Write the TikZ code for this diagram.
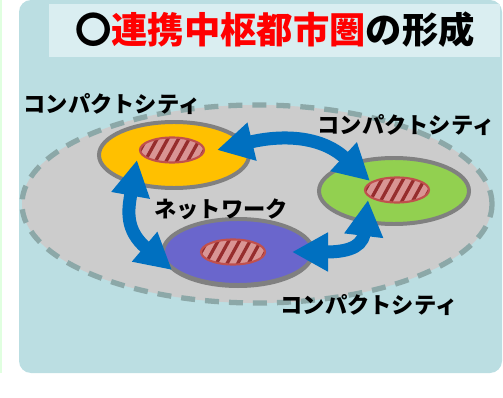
\documentclass[tikz,border=0pt]{standalone}
\usepackage{fontspec}
\newfontfamily\jpfont{Noto Sans CJK JP}
\usetikzlibrary{shapes.geometric,arrows.meta}

\definecolor{panelblue}{RGB}{187,222,226}
\definecolor{titlebox}{RGB}{218,238,241}
\definecolor{regiongray}{RGB}{204,204,204}
\definecolor{dashgray}{RGB}{140,168,168}
\definecolor{rimgray}{RGB}{128,128,128}
\definecolor{cityyellow}{RGB}{255,192,0}
\definecolor{citygreen}{RGB}{146,208,80}
\definecolor{citypurple}{RGB}{106,102,204}
\definecolor{corepink}{RGB}{217,149,148}
\definecolor{corered}{RGB}{192,80,77}
\definecolor{stripered}{RGB}{150,45,45}
\definecolor{linkblue}{RGB}{0,112,192}
\definecolor{titlered}{RGB}{255,0,0}

\begin{document}
\begin{tikzpicture}[
  x=0.03cm, y=-0.03cm,
  citystyle/.style={
        ellipse,
        draw=rimgray,
        line width=3.4pt,
        minimum width=4.5cm,
        minimum height=1.98cm
  },
  corestyle/.style={
        ellipse,
        draw=corered,
        line width=1.8pt,
        fill=corepink,
        inner sep=0,
        minimum width=1.92cm,
        minimum height=0.75cm,
        path picture={
          \foreach \k in {-5,...,4}
            \draw[stripered, line width=2.8pt]
              ([xshift=\k*0.32cm]path picture bounding box.south) ++(-0.25cm,-0.1cm) -- ++(0.55cm,1cm);
        }
  },
  labelstyle/.style={
        inner sep=0,
        font=\jpfont\bfseries\fontsize{19}{19}\selectfont
  },
  linkstyle/.style={
        linkblue,
        line width=0.39cm,
        {Triangle[length=1.08cm, width=1.1cm]}-{Triangle[length=1.08cm, width=1.1cm]}
  }
]

    \useasboundingbox (0,0) rectangle (503,398);

    % panel and title
    \fill[green!12] (0,0) rectangle (2,373);
    \fill[panelblue, rounded corners=12*0.03cm] (19,0) rectangle (502,373);
    \fill[titlebox] (49,4) rectangle (500,57);
    \node[labelstyle, font=\jpfont\bfseries\fontsize{31}{31}\selectfont] (title) at (275,30)
      {〇{\color{titlered}連携中枢都市圏}の形成};

    % region
    \node[ellipse, fill=regiongray, draw=dashgray, line width=4.5pt,
          dash pattern=on 14*0.03cm off 10*0.03cm,
          minimum width=14.1cm, minimum height=5.94cm] (region) at (257,204) {};

    % cities
    \node[citystyle, fill=cityyellow] (city_Y) at (174,155) {};
    \node[citystyle, fill=citygreen] (city_G) at (394,191) {};
    \node[citystyle, draw=none, fill=rimgray] at (238,255) {};
    \node[citystyle, fill=citypurple] (city_P) at (238,252) {};

    \node[corestyle] (core_Y) at (172,150) {};
    \node[corestyle] (core_G) at (397,190) {};
    \node[corestyle] (core_P) at (233,252) {};

    % links
    \coordinate (Y_r) at (217,150);
    \coordinate (G_l) at (370,181);
    \coordinate (Y_b) at (137,160);
    \coordinate (P_l) at (172,270);
    \coordinate (P_r) at (292,252);
    \coordinate (G_b) at (368,200);

    \draw[linkstyle] (Y_r) .. controls (280,135) and (320,135) .. (G_l);
    \draw[linkstyle] (Y_b) .. controls (128,210) and (125,230) .. (P_l);
    \draw[linkstyle] (P_r) .. controls (340,252) and (362,250) .. (G_b);

    % labels
    \node[labelstyle] (lab_Y) at (112,104) {コンパクトシティ};
    \node[labelstyle] (lab_G) at (406,125) {コンパクトシティ};
    \node[labelstyle] (lab_P) at (369,305) {コンパクトシティ};
    \node[labelstyle] (lab_N) at (221,209) {ネットワーク};
\end{tikzpicture}
\end{document}
